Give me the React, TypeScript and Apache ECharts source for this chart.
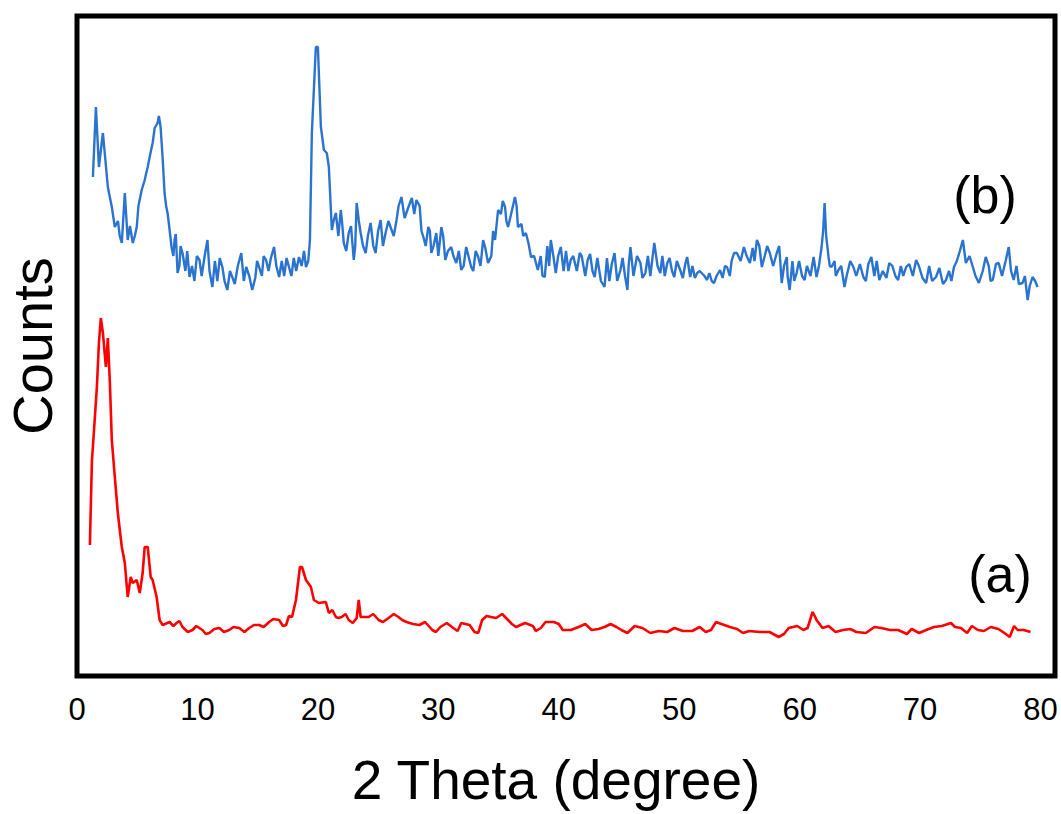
import React, { useEffect, useRef } from "react";
import * as echarts from "echarts";

// Trace (b): [2θ in degree, counts in arbitrary offset units]
const pointsB: number[][] = [
  [1.32,499],[1.57,569],[1.82,509],[2.15,543],[2.56,489],[2.89,469],[3.14,449],[3.4,455],[3.55,440],[3.72,433],[3.97,483],[4.21,436],[4.4,450],[4.63,433],[4.8,440],[4.96,449],[5.1,470],[5.37,486],[5.6,495],[5.87,509],[6.05,520],[6.28,533],[6.45,548],[6.69,553],[6.8,560],[6.94,549],[7.1,520],[7.27,483],[7.4,470],[7.52,463],[7.7,445],[7.85,429],[8.0,420],[8.10,436],[8.2,442],[8.35,403],[8.5,410],[8.6,430],[8.76,423],[9.0,405],[9.15,425],[9.34,399],[9.55,410],[9.75,395],[9.95,420],[10.17,416],[10.35,400],[10.6,420],[10.83,436],[11.0,405],[11.24,389],[11.45,415],[11.65,395],[11.85,418],[12.07,409],[12.25,395],[12.48,386],[12.7,405],[12.89,399],[13.1,392],[13.35,410],[13.64,423],[13.85,395],[14.05,409],[14.3,400],[14.55,386],[14.8,398],[14.95,415],[15.12,409],[15.35,400],[15.5,420],[15.70,416],[15.9,405],[16.1,418],[16.36,429],[16.55,410],[16.78,399],[17.0,415],[17.2,400],[17.4,418],[17.60,409],[17.8,400],[18.0,418],[18.2,405],[18.43,419],[18.65,410],[18.85,425],[19.01,409],[19.2,415],[19.34,436],[19.50,543],[19.83,629],[20.0,629],[20.25,549],[20.50,526],[20.74,523],[20.91,509],[21.16,446],[21.3,455],[21.49,463],[21.7,440],[21.90,466],[22.0,455],[22.15,433],[22.35,425],[22.56,443],[22.75,450],[22.98,416],[23.1,430],[23.22,473],[23.4,455],[23.55,443],[23.75,430],[23.97,423],[24.15,440],[24.38,453],[24.6,430],[24.79,423],[25.0,445],[25.21,456],[25.4,430],[25.62,443],[25.85,455],[26.12,446],[26.3,440],[26.53,456],[26.7,470],[26.94,479],[27.2,458],[27.52,469],[27.8,478],[28.0,462],[28.18,476],[28.45,470],[28.6,445],[28.76,439],[28.95,430],[29.17,449],[29.3,445],[29.42,423],[29.6,430],[29.83,443],[30.0,420],[30.25,449],[30.4,440],[30.58,416],[30.8,425],[31.07,429],[31.25,420],[31.49,413],[31.7,425],[31.90,406],[32.1,410],[32.31,429],[32.5,420],[32.73,409],[32.9,405],[33.1,425],[33.31,419],[33.5,410],[33.72,436],[33.9,428],[34.13,413],[34.4,420],[34.55,445],[34.71,436],[34.96,466],[35.2,462],[35.35,475],[35.54,469],[35.65,455],[35.79,449],[36.1,465],[36.36,479],[36.5,470],[36.61,449],[36.9,452],[37.05,440],[37.27,443],[37.5,432],[37.69,419],[37.95,420],[38.26,406],[38.5,420],[38.65,400],[38.84,399],[39.05,430],[39.2,410],[39.34,436],[39.55,420],[39.75,403],[39.95,420],[40.17,429],[40.4,405],[40.6,425],[40.8,405],[40.99,416],[41.2,420],[41.5,405],[41.74,423],[41.9,420],[42.2,400],[42.40,416],[42.6,422],[42.8,405],[42.98,399],[43.2,418],[43.5,395],[43.80,389],[44.0,418],[44.2,395],[44.4,412],[44.63,423],[44.85,395],[45.12,406],[45.3,418],[45.5,400],[45.70,386],[45.8,410],[45.95,429],[46.2,400],[46.5,420],[46.78,413],[46.95,398],[47.19,403],[47.4,420],[47.6,400],[47.93,433],[48.2,410],[48.43,403],[48.6,420],[48.8,400],[49.01,413],[49.2,418],[49.4,405],[49.59,399],[49.8,415],[50.08,406],[50.3,398],[50.5,412],[50.66,419],[50.91,399],[51.1,410],[51.3,398],[51.49,403],[51.7,405],[52.1,400],[52.31,396],[52.5,403],[52.7,395],[52.89,393],[53.1,400],[53.39,406],[53.6,398],[53.8,410],[53.97,409],[54.2,400],[54.35,415],[54.55,423],[54.79,423],[55.1,415],[55.37,429],[55.6,420],[55.87,413],[56.1,428],[56.25,415],[56.45,436],[56.65,430],[56.86,409],[57.1,420],[57.3,430],[57.52,423],[57.8,410],[58.10,423],[58.3,430],[58.51,393],[58.7,410],[58.93,419],[59.0,400],[59.17,386],[59.4,415],[59.55,395],[59.75,403],[59.95,415],[60.2,400],[60.41,396],[60.6,410],[60.9,400],[61.16,419],[61.40,399],[61.6,410],[61.82,429],[61.95,445],[62.07,473],[62.2,440],[62.40,419],[62.5,410],[62.64,409],[62.9,415],[63.0,400],[63.22,406],[63.45,410],[63.72,389],[63.9,400],[64.2,415],[64.46,409],[64.7,400],[65.0,412],[65.29,399],[65.5,395],[65.7,412],[65.95,419],[66.2,400],[66.4,415],[66.61,396],[66.9,405],[67.2,398],[67.44,413],[67.7,410],[67.95,400],[68.18,396],[68.4,410],[68.6,400],[68.84,409],[69.1,412],[69.4,400],[69.67,416],[69.9,410],[70.2,398],[70.50,393],[70.75,410],[71.0,395],[71.32,399],[71.6,408],[71.9,392],[72.15,396],[72.4,405],[72.6,395],[72.81,409],[73.05,415],[73.3,425],[73.55,436],[73.80,413],[74.1,420],[74.38,409],[74.6,400],[74.88,393],[75.2,405],[75.45,419],[75.7,410],[75.85,395],[76.03,396],[76.3,412],[76.53,413],[76.8,400],[77.1,415],[77.36,429],[77.55,405],[77.77,396],[78.0,410],[78.2,392],[78.51,393],[78.7,400],[78.93,376],[79.1,390],[79.34,399],[79.55,395],[79.75,389]
];

// Trace (a): [2θ in degree, counts in arbitrary offset units]
const pointsA: number[][] = [
  [1.07,131],[1.24,216],[1.32,229],[1.65,289],[1.82,333],[1.98,358],[2.15,343],[2.40,309],[2.56,338],[2.73,293],[2.89,236],[3.14,199],[3.39,163],[3.72,129],[3.97,113],[4.21,79],[4.46,99],[4.63,93],[4.96,96],[5.21,83],[5.45,103],[5.62,129],[5.87,129],[6.12,99],[6.28,96],[6.61,79],[6.86,56],[7.11,51],[7.69,54],[8.0,50],[8.26,53],[8.5,55],[8.76,49],[9.2,44],[9.59,46],[9.9,50],[10.41,46],[10.7,42],[10.99,43],[11.4,47],[11.82,48],[12.2,44],[12.64,46],[13.0,49],[13.47,48],[13.9,44],[14.30,48],[14.7,51],[15.12,51],[15.5,49],[15.95,54],[16.3,57],[16.78,56],[17.1,50],[17.36,51],[17.6,60],[17.85,59],[18.18,76],[18.51,109],[18.68,109],[19.01,96],[19.42,89],[19.67,76],[20.08,73],[20.66,74],[20.91,63],[21.2,66],[21.49,59],[21.7,58],[21.98,59],[22.3,62],[22.56,56],[22.9,53],[23.22,58],[23.39,76],[23.55,59],[24.21,59],[24.6,62],[25.04,56],[25.4,54],[25.87,58],[26.3,62],[26.69,59],[27.0,56],[27.36,54],[27.9,52],[28.43,51],[28.9,54],[29.50,46],[29.8,44],[30.17,49],[30.7,53],[31.24,48],[31.6,45],[31.90,53],[32.6,51],[33.0,44],[33.31,43],[33.64,56],[34.0,60],[34.38,59],[34.8,58],[35.3,62],[35.79,56],[36.1,52],[36.45,49],[37.2,53],[37.85,50],[38.1,45],[38.51,48],[38.9,54],[39.59,54],[40.0,52],[40.33,46],[41.0,46],[41.65,49],[42.2,52],[42.73,46],[43.3,47],[43.80,49],[44.3,52],[44.79,49],[45.2,46],[45.70,43],[46.3,50],[46.94,48],[47.60,43],[48.3,45],[49.01,44],[49.6,48],[50.3,45],[51.07,45],[51.7,49],[52.2,44],[52.64,46],[53.06,54],[53.5,52],[54.21,49],[54.8,47],[55.29,43],[55.8,45],[56.69,44],[57.5,44],[58.26,39],[58.7,42],[59.09,48],[59.8,50],[60.3,46],[60.66,48],[61.07,64],[61.25,60],[61.40,56],[61.90,48],[62.4,50],[62.98,44],[63.6,46],[64.2,47],[64.71,44],[65.5,43],[66.2,49],[66.78,48],[67.5,46],[68.18,46],[68.9,42],[69.3,47],[69.92,43],[70.5,46],[71.16,49],[71.8,50],[72.56,53],[72.9,49],[73.39,48],[73.9,43],[74.3,50],[74.79,46],[75.3,45],[75.87,49],[76.5,47],[77.0,43],[77.44,39],[77.8,50],[78.10,46],[78.6,46],[79.17,44]
];

const xTicks = [0, 10, 20, 30, 40, 50, 60, 70, 80];
const labelA = "(a)";
const labelB = "(b)";
const xTitle = "2 Theta (degree)";
const yTitle = "Counts";

const FONT = "'Liberation Sans', Arial, Helvetica, sans-serif";

export default function App() {
  const ref = useRef<HTMLDivElement>(null);
  useEffect(() => {
    if (!ref.current) return;
    const chart = echarts.init(ref.current, null, { renderer: "svg" });
    const byTheta = (a: number[], b: number[]) => a[0] - b[0];
    const dataB = pointsB.slice().sort(byTheta);
    const dataA = pointsA.slice().sort(byTheta);
    chart.setOption({
      animation: false,
      backgroundColor: "#ffffff",
      grid: {
        left: 77,
        right: 6,
        top: 16,
        bottom: 138,
        show: true,
        borderColor: "#000",
        borderWidth: 5,
        backgroundColor: "transparent",
      },
      xAxis: {
        type: "value",
        min: 0,
        max: 81.2,
        interval: 10,
        axisLine: { show: false },
        axisTick: { show: false },
        splitLine: { show: false },
        axisLabel: {
          show: true,
          showMaxLabel: false,
          margin: 18,
          fontSize: 31,
          color: "#000",
          fontFamily: FONT,
          formatter: (v: number) => (xTicks.includes(v) ? String(v) : ""),
        },
      },
      yAxis: {
        type: "value",
        min: 0,
        max: 660,
        axisLine: { show: false },
        axisTick: { show: false },
        splitLine: { show: false },
        axisLabel: { show: false },
      },
      series: [
        {
          name: labelB,
          type: "line",
          data: dataB,
          showSymbol: false,
          lineStyle: { color: "#2a73cf", width: 2.4 },
          z: 2,
        },
        {
          name: labelA,
          type: "line",
          data: dataA,
          showSymbol: false,
          lineStyle: { color: "#ff0000", width: 2.6 },
          z: 3,
        },
      ],
      graphic: [
        {
          type: "text",
          x: 556,
          y: 780,
          style: {
            text: xTitle,
            font: `55px ${FONT}`,
            fill: "#000",
            textAlign: "center",
            textVerticalAlign: "middle",
          },
        },
        {
          type: "text",
          x: 32,
          y: 346,
          rotation: Math.PI / 2,
          style: {
            text: yTitle,
            font: `56px ${FONT}`,
            fill: "#000",
            textAlign: "center",
            textVerticalAlign: "middle",
          },
        },
        {
          type: "text",
          x: 985,
          y: 195,
          style: {
            text: labelB,
            font: `52px ${FONT}`,
            fill: "#000",
            textAlign: "center",
            textVerticalAlign: "middle",
          },
        },
        {
          type: "text",
          x: 1000,
          y: 574,
          style: {
            text: labelA,
            font: `52px ${FONT}`,
            fill: "#000",
            textAlign: "center",
            textVerticalAlign: "middle",
          },
        },
      ],
    });
    return () => chart.dispose();
  }, []);
  return (
    <div
      ref={ref}
      style={{ position: "fixed", left: 0, top: 0, width: 1061, height: 814 }}
    />
  );
}
